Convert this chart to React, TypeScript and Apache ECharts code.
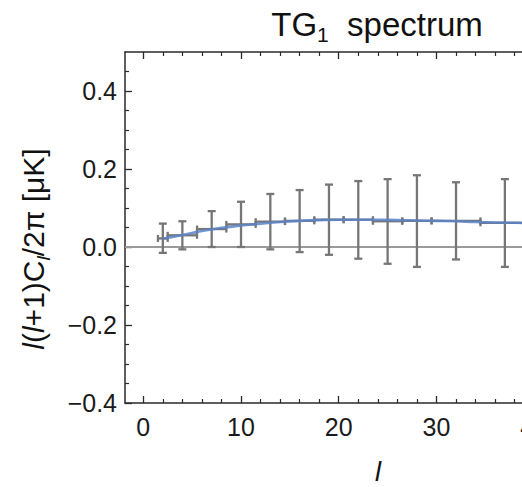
import React, { useEffect, useRef } from "react";
import * as echarts from "echarts";

// ---- data ----
const ells = [2, 4, 7, 10, 13, 16, 19, 22, 25, 28, 32, 37];
const values = [0.022, 0.030, 0.046, 0.058, 0.065, 0.067, 0.070, 0.070, 0.066, 0.067, 0.067, 0.062];
const upper = [0.060, 0.066, 0.092, 0.116, 0.136, 0.146, 0.160, 0.169, 0.174, 0.184, 0.166, 0.174];
const lower = [-0.015, -0.006, 0.000, 0.000, -0.006, -0.013, -0.020, -0.030, -0.043, -0.051, -0.032, -0.051];
const binLow = [1.5, 2.5, 5.5, 8.5, 11.5, 14.5, 17.5, 20.5, 23.5, 26.5, 29.5, 34.5];
const binHigh = [2.5, 5.5, 8.5, 11.5, 14.5, 17.5, 20.5, 23.5, 26.5, 29.5, 34.5, 39.5];

const modelL = [2, 3, 4, 5, 6, 7, 8, 10, 12, 14, 16, 18, 20, 22, 24, 26, 28, 30, 32, 34, 36, 38, 40];
const modelV = [0.021, 0.026, 0.031, 0.036, 0.041, 0.045, 0.049, 0.055, 0.060, 0.064, 0.067, 0.069, 0.070, 0.070, 0.070, 0.069, 0.068, 0.067, 0.066, 0.064, 0.063, 0.062, 0.061];

const xMajor = [0, 10, 20, 30, 40];
const xMinor = [2, 4, 6, 8, 12, 14, 16, 18, 22, 24, 26, 28, 32, 34, 36, 38, 42, 44, 46, 48];
const yMajor = [-0.4, -0.2, 0, 0.2, 0.4];
const yMinor = [-0.35, -0.3, -0.25, -0.15, -0.1, -0.05, 0.05, 0.1, 0.15, 0.25, 0.3, 0.35, 0.45];

const FONT = "'Liberation Sans', Arial, Helvetica, sans-serif";
const AXIS_COLOR = "#2a2a2a";
const X_MIN = -1.87;
const X_MAX = 49.7;
const Y_MIN = -0.4;
const Y_MAX = 0.5;

// The original figure is wider than the 522px crop: the chart canvas is drawn wider
// and the window shows its left part only.
const CANVAS_W = 640;
const CANVAS_H = 487;

function fmtY(v: number) {
  const s = Math.abs(v).toFixed(1);
  return v < -1e-9 ? "\u2212" + s : s;
}

export default function App() {
  const ref = useRef<HTMLDivElement>(null);
  useEffect(() => {
    if (!ref.current) return;
    const chart = echarts.init(ref.current, null, { renderer: "svg" });

    const errData = ells.map((l, i) => [l, values[i], lower[i], upper[i], binLow[i], binHigh[i]]);
    const modelData = modelL.map((l, i) => [l, modelV[i]]);

    const xBase = { type: "value", min: X_MIN, max: X_MAX, splitLine: { show: false }, gridIndex: 0 };
    const yBase = { type: "value", min: Y_MIN, max: Y_MAX, splitLine: { show: false }, gridIndex: 0 };

    const option: any = {
      animation: false,
      backgroundColor: "#ffffff",
      grid: { left: 125, top: 52, bottom: 84, right: CANVAS_W - 629, containLabel: false },
      xAxis: [
        {
          ...xBase,
          position: "bottom",
          axisLine: { show: true, onZero: false, lineStyle: { color: AXIS_COLOR, width: 1.5 } },
          axisTick: { show: true, inside: true, length: 7, customValues: xMajor, lineStyle: { color: AXIS_COLOR, width: 1.3 } },
          axisLabel: { show: true, customValues: xMajor, fontSize: 25, fontFamily: FONT, color: "#1a1a1a", margin: 11 },
        },
        {
          ...xBase,
          position: "bottom",
          axisLine: { show: false, onZero: false },
          axisTick: { show: true, inside: true, length: 4, customValues: xMinor, lineStyle: { color: AXIS_COLOR, width: 1.2 } },
          axisLabel: { show: false },
        },
        {
          ...xBase,
          position: "top",
          axisLine: { show: true, onZero: false, lineStyle: { color: AXIS_COLOR, width: 1.5 } },
          axisTick: { show: true, inside: true, length: 7, customValues: xMajor, lineStyle: { color: AXIS_COLOR, width: 1.3 } },
          axisLabel: { show: false },
        },
        {
          ...xBase,
          position: "top",
          axisLine: { show: false, onZero: false },
          axisTick: { show: true, inside: true, length: 4, customValues: xMinor, lineStyle: { color: AXIS_COLOR, width: 1.2 } },
          axisLabel: { show: false },
        },
      ],
      yAxis: [
        {
          ...yBase,
          position: "left",
          axisLine: { show: true, onZero: false, lineStyle: { color: AXIS_COLOR, width: 1.5 } },
          axisTick: { show: true, inside: true, length: 7, customValues: yMajor, lineStyle: { color: AXIS_COLOR, width: 1.3 } },
          axisLabel: { show: true, customValues: yMajor, fontSize: 25, fontFamily: FONT, color: "#1a1a1a", margin: 8, formatter: (v: number) => fmtY(v) },
        },
        {
          ...yBase,
          position: "left",
          axisLine: { show: false, onZero: false },
          axisTick: { show: true, inside: true, length: 4, customValues: yMinor, lineStyle: { color: AXIS_COLOR, width: 1.2 } },
          axisLabel: { show: false },
        },
      ],
      graphic: [
        {
          type: "text",
          x: 377,
          y: 4,
          style: {
            text: "{a|TG}{b|1}{a|  spectrum}",
            align: "center",
            textAlign: "center",
            verticalAlign: "top",
            textVerticalAlign: "top",
            rich: {
              a: { fontSize: 33, fontFamily: FONT, fill: "#111", color: "#111", lineHeight: 41 },
              b: { fontSize: 21, fontFamily: FONT, fill: "#111", color: "#111", lineHeight: 27, verticalAlign: "bottom" },
            },
          },
        },
        {
          type: "text",
          x: 33,
          y: 249,
          rotation: Math.PI / 2,
          style: {
            text: "{i|l}{n|(}{i|l}{n|+1)C}{s|l}{n|/2\u03c0 [\u03bcK]}",
            align: "center",
            textAlign: "center",
            verticalAlign: "middle",
            textVerticalAlign: "middle",
            rich: {
              n: { fontSize: 30, fontFamily: FONT, fill: "#111", color: "#111", lineHeight: 40 },
              i: { fontSize: 30, fontFamily: FONT, fontStyle: "italic", fill: "#111", color: "#111", lineHeight: 40 },
              s: { fontSize: 19, fontFamily: FONT, fontStyle: "italic", fill: "#111", color: "#111", lineHeight: 26, verticalAlign: "bottom" },
            },
          },
        },
        {
          type: "text",
          x: 378,
          y: 472,
          style: {
            text: "l",
            align: "center",
            textAlign: "center",
            verticalAlign: "middle",
            textVerticalAlign: "middle",
            fontSize: 27,
            fontFamily: FONT,
            fontStyle: "italic",
            fill: "#111",
          },
        },
      ],
      series: [
        {
          type: "custom",
          name: "errors",
          xAxisIndex: 0,
          yAxisIndex: 0,
          z: 2,
          clip: false,
          encode: { x: [0, 4, 5], y: [1, 2, 3] },
          data: errData,
          renderItem: (params: any, api: any) => {
            const x = api.value(0);
            const y = api.value(1);
            const lo = api.value(2);
            const hi = api.value(3);
            const bl = api.value(4);
            const bh = api.value(5);
            const pTop = api.coord([x, hi]);
            const pBot = api.coord([x, lo]);
            const pL = api.coord([bl, y]);
            const pR = api.coord([bh, y]);
            const cap = 4;
            const hcap = 3.5;
            const style = { stroke: "#767676", lineWidth: 2.3, fill: "none" };
            const ln = (x1: number, y1: number, x2: number, y2: number) => ({
              type: "line",
              shape: { x1, y1, x2, y2 },
              style,
            });
            return {
              type: "group",
              children: [
                ln(pTop[0], pTop[1], pBot[0], pBot[1]),
                ln(pTop[0] - cap, pTop[1], pTop[0] + cap, pTop[1]),
                ln(pBot[0] - cap, pBot[1], pBot[0] + cap, pBot[1]),
                ln(pL[0], pL[1], pR[0], pR[1]),
                ln(pL[0], pL[1] - hcap, pL[0], pL[1] + hcap),
                ln(pR[0], pR[1] - hcap, pR[0], pR[1] + hcap),
              ],
            };
          },
          markLine: {
            silent: true,
            symbol: ["none", "none"],
            label: { show: false },
            lineStyle: { color: "#9a9a9a", width: 2, type: "solid" },
            data: [{ yAxis: 0 }],
            z: 1,
          },
        },
        {
          type: "line",
          name: "model",
          xAxisIndex: 0,
          yAxisIndex: 0,
          z: 3,
          smooth: true,
          showSymbol: false,
          symbol: "none",
          data: modelData,
          lineStyle: { color: "#5b84c8", width: 2.6, opacity: 0.85 },
        },
      ],
    };

    chart.setOption(option);
    return () => chart.dispose();
  }, []);

  return (
    <div
      ref={ref}
      style={{ position: "fixed", left: 0, top: 0, width: CANVAS_W, height: CANVAS_H, background: "#fff" }}
    />
  );
}
